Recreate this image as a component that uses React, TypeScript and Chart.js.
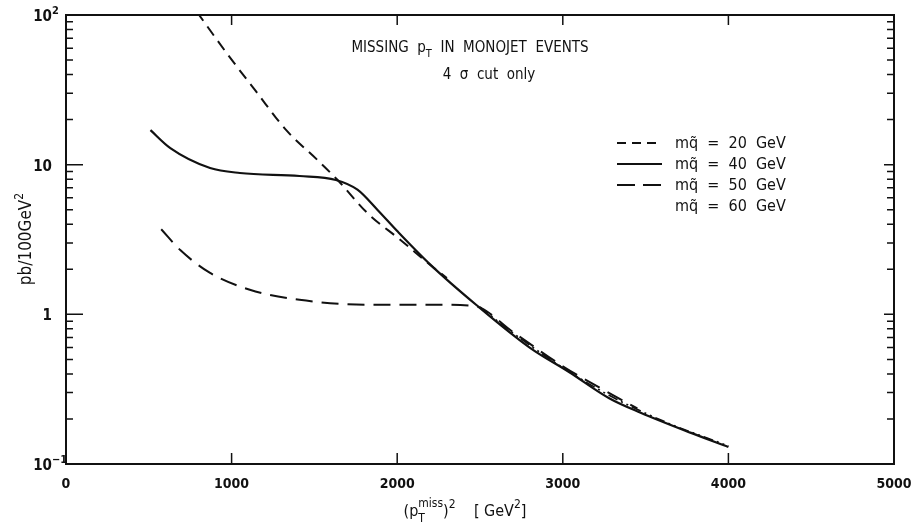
import React, { useEffect, useRef } from "react";
import { Chart, registerables } from "chart.js";

Chart.register(...registerables);

// Data
const solid40X = [510, 630, 870, 1050, 1410, 1630, 1760, 1880, 2000, 2200, 2480, 2800, 3040, 3280, 3470, 3770, 4000];
const solid40Y = [17, 12.9, 9.5, 8.8, 8.4, 7.9, 6.8, 5.0, 3.6, 2.15, 1.15, 0.6, 0.41, 0.275, 0.22, 0.162, 0.13];

const dash20X = [790, 970, 1150, 1330, 1520, 1640, 1820, 2020, 2220, 2300];
const dash20Y = [105, 55.7, 30.6, 17, 10.7, 7.9, 4.75, 3.14, 2.05, 1.75];

const dash50X = [575, 690, 870, 1110, 1410, 1820, 2220, 2460, 2700, 3000, 3300, 3450];
const dash50Y = [3.7, 2.69, 1.89, 1.46, 1.25, 1.16, 1.16, 1.14, 0.76, 0.45, 0.29, 0.235];

const dd60X = [2500, 2700, 3000, 3300, 3600, 4000];
const dd60Y = [1.12, 0.75, 0.44, 0.28, 0.195, 0.132];

const xTickLabels = [0, 1000, 2000, 3000, 4000, 5000];
const yDecades = [0.1, 1, 10, 100];
const legendMasses = ["20", "40", "50", "60"];

const FONT = "'DejaVu Sans Condensed', 'DejaVu Sans', sans-serif";
const INK = "#111";

const pts = (xs: number[], ys: number[]) => xs.map((x, i) => ({ x, y: ys[i] }));

type Part = { t: string; f: string; dy: number; adv?: boolean };

function drawParts(ctx: CanvasRenderingContext2D, parts: Part[], cx: number, by: number) {
  let total = 0;
  for (const pr of parts) {
    ctx.font = pr.f;
    if (pr.adv !== false) total += ctx.measureText(pr.t).width;
  }
  let x = cx - total / 2;
  ctx.textAlign = "left";
  for (const pr of parts) {
    ctx.font = pr.f;
    ctx.fillText(pr.t, x, by + pr.dy);
    if (pr.adv !== false) x += ctx.measureText(pr.t).width;
  }
}

const decorPlugin = {
  id: "decor",
  afterDraw(chart: any) {
    const ctx = chart.ctx as CanvasRenderingContext2D;
    const { left, right, top, bottom } = chart.chartArea;
    const xs = chart.scales.x;
    const ys = chart.scales.y;
    ctx.save();
    ctx.strokeStyle = INK;
    ctx.fillStyle = INK;
    ctx.lineWidth = 2;
    ctx.setLineDash([]);
    ctx.strokeRect(left, top, right - left, bottom - top);

    // y ticks
    ctx.lineWidth = 1.5;
    for (let d = 0; d < yDecades.length - 1; d++) {
      const base = yDecades[d];
      for (let k = 1; k <= 9; k++) {
        const v = base * k;
        const p = ys.getPixelForValue(v);
        const major = k === 1;
        if (major && d === 0) continue;
        ctx.beginPath();
        ctx.moveTo(left, p);
        ctx.lineTo(left + (major ? 17 : 7), p);
        ctx.moveTo(right, p);
        ctx.lineTo(right - (major ? 10 : 7), p);
        ctx.stroke();
      }
    }
    // x ticks
    for (const v of xTickLabels) {
      if (v === 0 || v === 5000) continue;
      const p = xs.getPixelForValue(v);
      ctx.beginPath();
      ctx.moveTo(p, bottom);
      ctx.lineTo(p, bottom - 11);
      ctx.moveTo(p, top);
      ctx.lineTo(p, top + 10);
      ctx.stroke();
    }

    // x tick labels
    ctx.font = `bold 14px ${FONT}`;
    ctx.textAlign = "center";
    ctx.textBaseline = "alphabetic";
    for (const v of xTickLabels) {
      ctx.fillText(String(v), xs.getPixelForValue(v), bottom + 24);
    }

    // y tick labels
    const yLab = (v: number, base: string, sup: string) => {
      const p = ys.getPixelForValue(v);
      ctx.font = `bold 15px ${FONT}`;
      ctx.textAlign = "right";
      ctx.fillText(base, 52, p + 6);
      if (sup) {
        ctx.font = `bold 11px ${FONT}`;
        ctx.textAlign = "left";
        ctx.fillText(sup, 52, p - 1);
      }
    };
    yLab(100, "10", "2");
    yLab(10, "10", "");
    yLab(1, "1", "");
    yLab(0.1, "10", "\u22121");

    // y axis title
    ctx.save();
    ctx.translate(25, 239);
    ctx.rotate(-Math.PI / 2);
    drawParts(
      ctx,
      [
        { t: "pb/100GeV", f: `17px ${FONT}`, dy: 0 },
        { t: "2", f: `12px ${FONT}`, dy: -8 },
      ],
      0,
      6
    );
    ctx.restore();

    // x axis title: (p_T^miss)^2  [GeV^2]
    {
      const big = `16px ${FONT}`;
      const small = `12px ${FONT}`;
      drawParts(
        ctx,
        [
          { t: "(p", f: big, dy: 0 },
          { t: "T", f: small, dy: 6, adv: false },
          { t: "miss", f: small, dy: -9 },
          { t: ")", f: big, dy: 0 },
          { t: "2", f: small, dy: -8 },
          { t: "    [ GeV", f: big, dy: 0 },
          { t: "2", f: small, dy: -8 },
          { t: "]", f: big, dy: 0 },
        ],
        465,
        516
      );
    }

    // title
    {
      const big = `15px ${FONT}`;
      const small = `11px ${FONT}`;
      drawParts(
        ctx,
        [
          { t: "MISSING  p", f: big, dy: 0 },
          { t: "T", f: small, dy: 5 },
          { t: "  IN  MONOJET  EVENTS", f: big, dy: 0 },
        ],
        470,
        52
      );
      ctx.font = big;
      ctx.textAlign = "center";
      ctx.fillText("4  \u03c3  cut  only", 489, 79);
    }

    // legend
    const dashes: (number[] | null)[] = [[9, 6], [], [18, 8], null];
    for (let i = 0; i < legendMasses.length; i++) {
      const yy = 143 + i * 21;
      const d = dashes[i];
      if (d) {
        ctx.lineWidth = 2;
        ctx.setLineDash(d);
        ctx.beginPath();
        ctx.moveTo(617, yy);
        ctx.lineTo(662, yy);
        ctx.stroke();
        ctx.setLineDash([]);
      }
      ctx.font = `16px ${FONT}`;
      ctx.textAlign = "left";
      ctx.fillText(`mq\u0303  =  ${legendMasses[i]}  GeV`, 675, yy + 5);
    }
    ctx.restore();
  },
};

export default function App() {
  const ref = useRef<HTMLCanvasElement | null>(null);
  useEffect(() => {
    if (!ref.current) return;
    const common = {
      borderColor: INK,
      borderWidth: 2,
      pointRadius: 0,
      fill: false,
      cubicInterpolationMode: "monotone" as const,
    };
    const chart = new Chart(ref.current, {
      type: "line",
      data: {
        datasets: [
          { ...common, label: "mq = 20 GeV", data: pts(dash20X, dash20Y), borderDash: [11, 7] },
          { ...common, label: "mq = 40 GeV", data: pts(solid40X, solid40Y), borderWidth: 2.2 },
          { ...common, label: "mq = 50 GeV", data: pts(dash50X, dash50Y), borderDash: [17, 9] },
          { ...common, label: "mq = 60 GeV", data: pts(dd60X, dd60Y), borderWidth: 1.6, borderDash: [10, 4, 2, 4, 2, 4] },
        ],
      },
      options: {
        animation: false,
        responsive: false,
        maintainAspectRatio: false,
        layout: { padding: { top: 15, right: 20, left: 0, bottom: 0 } },
        plugins: { legend: { display: false }, tooltip: { enabled: false } },
        scales: {
          x: {
            type: "linear",
            min: 0,
            max: 5000,
            ticks: { display: false },
            grid: { display: false },
            border: { display: false },
            afterFit: (s: any) => {
              s.height = 68;
            },
          },
          y: {
            type: "logarithmic",
            min: 0.1,
            max: 100,
            ticks: { display: false },
            grid: { display: false },
            border: { display: false },
            afterFit: (s: any) => {
              s.width = 66;
            },
          },
        },
      },
      plugins: [decorPlugin],
    });
    return () => chart.destroy();
  }, []);
  return (
    <div style={{ position: "fixed", left: 0, top: 0, width: 914, height: 532, background: "#fff" }}>
      <canvas ref={ref} width={914} height={532} style={{ width: 914, height: 532 }} />
    </div>
  );
}
